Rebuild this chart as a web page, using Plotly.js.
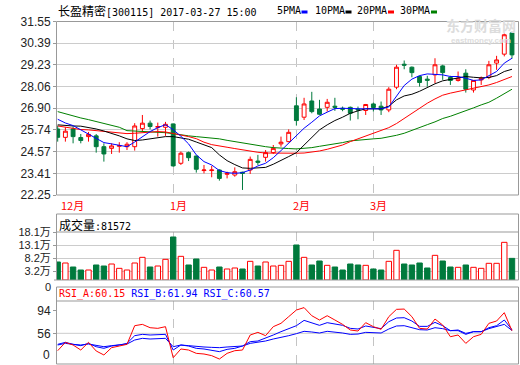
<!DOCTYPE html>
<html>
<head>
<meta charset="utf-8">
<script src="https://cdn.plot.ly/plotly-3.0.1.min.js"></script>
<style>
html,body{margin:0;padding:0;background:#fff;}
#chart{width:520px;height:365px;}
</style>
</head>
<body>
<div id="chart"></div>
<script>
// ---------------- data ----------------
const monthIdx = [0, 15, 31, 41];
const monthLabels = ['12月', '1月', '2月', '3月'];

const open  = [25.79,25.34,25.79,25.33,25.38,25.42,24.84,24.75,24.86,24.84,
               24.84,25.81,26.10,25.88,25.88,26.06,23.95,24.52,24.34,23.56,
               23.56,23.59,23.36,23.32,23.47,23.59,24.07,24.27,24.52,24.99,
               25.11,27.03,26.42,27.29,26.86,26.95,27.01,26.90,26.95,26.86,
               26.78,27.13,27.01,26.81,28.03,29.26,29.10,28.60,28.46,28.69,
               29.17,28.55,28.39,28.78,27.88,28.42,28.56,29.32,29.80,30.94];
const high  = [25.97,25.88,25.92,25.52,25.63,25.52,25.02,25.02,25.08,25.08,
               26.10,26.54,26.24,26.13,26.17,26.08,24.58,24.58,24.36,23.86,
               23.81,23.63,23.50,23.73,23.50,24.31,24.40,24.66,24.93,25.38,
               25.77,27.49,27.46,27.78,27.35,27.40,27.46,26.99,26.99,26.99,
               27.13,27.20,27.26,28.03,29.23,29.46,29.14,28.65,28.64,29.58,
               29.23,28.64,28.87,28.99,28.39,28.60,29.44,29.71,30.90,30.98];
const low   = [25.11,25.11,25.02,25.02,25.11,24.52,24.04,24.45,24.52,24.66,
               24.63,25.65,25.77,25.38,25.42,23.77,23.86,24.07,23.45,23.41,
               23.20,23.02,23.14,23.23,22.52,23.38,23.86,24.04,24.45,24.84,
               25.08,25.97,26.27,26.63,26.54,26.72,26.76,26.74,26.24,26.31,
               26.54,26.72,26.54,26.69,27.92,28.99,28.56,28.06,28.06,28.24,
               28.42,28.15,28.33,27.74,27.74,28.15,28.46,28.96,29.68,29.56];
const close = [25.34,25.67,25.38,25.17,25.50,24.84,24.45,24.88,24.90,24.97,
               25.95,26.10,25.92,25.92,26.04,23.81,24.49,24.25,23.63,23.59,
               23.59,23.14,23.41,23.50,23.41,24.16,24.00,24.52,24.75,25.08,
               25.61,26.24,27.13,26.72,26.58,27.22,26.95,26.85,26.63,26.81,
               27.10,26.94,26.81,27.92,29.10,29.21,28.81,28.28,28.40,29.23,
               28.81,28.39,28.51,27.92,28.39,28.51,29.23,29.49,30.84,29.76];

const ma5  = [26.31,26.11,25.97,25.74,25.52,25.29,25.06,24.99,24.93,24.84,
              25.09,25.38,25.65,25.86,26.02,25.75,25.40,24.99,24.40,24.04,
              23.86,23.56,23.45,23.41,23.45,23.59,23.81,23.95,24.25,24.63,
              25.02,25.42,25.83,26.15,26.49,26.69,26.88,26.90,26.87,26.87,
              26.87,26.87,26.87,26.97,27.53,28.12,28.46,28.65,28.74,28.73,
              28.69,28.60,28.60,28.51,28.39,28.42,28.64,28.87,29.32,29.58];
const ma10 = [26.01,25.97,25.95,25.94,25.88,25.79,25.68,25.56,25.42,25.26,
              25.17,25.20,25.27,25.33,25.38,25.38,25.33,25.24,25.09,24.95,
              24.79,24.40,24.09,23.88,23.70,23.68,23.70,23.73,23.90,24.09,
              24.31,24.52,24.93,25.34,25.74,26.01,26.24,26.42,26.63,26.76,
              26.87,26.87,26.87,27.01,27.35,27.56,27.65,27.81,28.03,28.21,
              28.37,28.46,28.53,28.60,28.56,28.53,28.55,28.65,28.87,28.99];
const ma20 = [25.95,25.88,25.79,25.76,25.74,25.70,25.65,25.59,25.56,25.54,
              25.56,25.59,25.65,25.65,25.63,25.56,25.47,25.38,25.27,25.08,
              24.95,24.86,24.81,24.74,24.66,24.59,24.54,24.50,24.49,24.49,
              24.49,24.49,24.50,24.54,24.61,24.70,24.81,24.93,25.11,25.26,
              25.38,25.52,25.70,25.86,26.08,26.35,26.63,26.92,27.17,27.40,
              27.60,27.71,27.80,27.85,27.96,28.06,28.15,28.28,28.42,28.60];
const ma30 = [26.72,26.60,26.49,26.38,26.29,26.19,26.10,26.01,25.88,25.70,
              25.68,25.68,25.67,25.65,25.59,25.54,25.47,25.42,25.38,25.34,
              25.31,25.26,25.18,25.11,25.04,24.95,24.88,24.84,24.79,24.75,
              24.74,24.72,24.75,24.79,24.86,24.92,24.99,25.06,25.15,25.20,
              25.24,25.26,25.29,25.36,25.45,25.56,25.70,25.86,26.02,26.17,
              26.35,26.47,26.61,26.76,26.92,27.08,27.22,27.44,27.67,27.92];

const volume = [67900,64100,49000,37700,37700,56600,52800,60300,44000,37700,
                64100,85500,49000,52800,77900,162200,89200,56600,79200,47800,
                37700,49000,41500,45300,41500,70400,52800,67900,52800,55300,
                70400,132000,85500,56600,71600,55300,49000,37700,60300,56600,
                55300,41500,37700,70400,111900,60300,56600,64100,45300,93000,
                71600,49000,47800,56600,47800,44000,62900,62900,142000,81572];

const rsiA = [27.3,41.1,36.7,28.4,41.1,26.8,20.2,32.3,35.0,37.8,
              68.6,70.8,65.3,64.2,67.0,15.7,30.1,28.4,22.9,21.8,
              19.1,13.5,22.9,27.3,28.4,53.2,57.6,52.1,67.0,72.5,
              83.5,94.5,98.5,85.1,78.0,85.1,78.0,70.8,61.5,59.8,
              73.6,67.0,62.6,83.5,95.6,96.1,83.5,64.2,63.1,79.6,
              69.7,50.4,53.2,39.4,50.4,54.3,72.5,76.3,90.1,60.15];
const rsiB = [37.8,41.1,37.8,35.6,39.4,33.9,31.2,35.0,36.7,39.4,
              52.1,54.3,53.2,53.2,54.3,28.4,36.7,35.0,31.2,30.1,
              28.4,25.7,29.5,31.2,35.0,42.2,43.3,47.7,53.2,58.7,
              64.2,68.6,77.4,73.6,69.2,73.6,71.4,69.2,64.2,63.1,
              68.1,65.3,63.7,75.2,81.3,81.8,76.3,67.5,67.5,74.1,
              68.6,60.4,60.4,54.3,58.7,58.7,65.3,68.6,78.0,61.94];
const rsiC = [36.7,39.4,37.8,36.7,38.3,35.6,33.9,35.6,36.7,38.3,
              44.9,47.7,46.6,46.6,47.7,33.9,36.7,35.6,33.9,33.4,
              32.8,32.3,33.4,33.9,35.0,39.4,41.1,43.3,46.6,48.8,
              52.1,55.4,59.3,58.2,56.5,59.3,58.2,56.5,54.3,54.8,
              57.6,57.6,56.5,63.1,68.1,68.6,65.9,62.0,61.5,65.3,
              63.7,60.4,61.5,55.9,58.7,58.7,63.7,67.0,70.8,60.57];

const priceTicks = [22.25,23.41,24.57,25.74,26.90,28.06,29.23,30.39,31.55];
const priceTickText = ['22.25','23.41','24.57','25.74','26.90','28.06','29.23','30.39','31.55'];
const volTicks = [32000,82000,131000,181000];
const volTickText = ['3.2万','8.2万','13.1万','18.1万'];
const volZeroText = '0';
const rsiTicks = [56,94];
const rsiTickText = ['56','94'];
const rsiZeroText = '0';

// ---------------- styling ----------------
const RED = '#ff0000', GREEN = '#007a3d', BLUE = '#0000ff';
const idx = close.map((_, i) => i);
const H = 365, L = 57, R = 519;
const px = p => (p - L) / (R - L);
const py = p => 1 - p / H;

const upColor = close.map((c, i) => c >= open[i]);
const volFill = upColor.map(u => u ? '#ffffff' : GREEN);
const volLine = upColor.map(u => u ? RED : GREEN);

const traces = [
  {type:'candlestick', x:idx, open:open, high:high, low:low, close:close,
   xaxis:'x', yaxis:'y', whiskerwidth:0,
   increasing:{line:{color:RED, width:1}, fillcolor:'#ffffff'},
   decreasing:{line:{color:GREEN, width:1}, fillcolor:GREEN},
   hoverinfo:'skip'},
  {type:'scatter', mode:'lines', x:idx, y:ma30, line:{color:'#008000', width:1}, xaxis:'x', yaxis:'y'},
  {type:'scatter', mode:'lines', x:idx, y:ma20, line:{color:RED, width:1}, xaxis:'x', yaxis:'y'},
  {type:'scatter', mode:'lines', x:idx, y:ma10, line:{color:'#000000', width:1}, xaxis:'x', yaxis:'y'},
  {type:'scatter', mode:'lines', x:idx, y:ma5, line:{color:BLUE, width:1}, xaxis:'x', yaxis:'y'},
  {type:'bar', x:idx, y:volume, xaxis:'x2', yaxis:'y2',
   marker:{color:volFill, line:{color:volLine, width:1}}},
  {type:'scatter', mode:'lines', x:idx, y:rsiC, line:{color:BLUE, width:1}, xaxis:'x3', yaxis:'y3'},
  {type:'scatter', mode:'lines', x:idx, y:rsiB, line:{color:BLUE, width:1}, xaxis:'x3', yaxis:'y3'},
  {type:'scatter', mode:'lines', x:idx, y:rsiA, line:{color:RED, width:1}, xaxis:'x3', yaxis:'y3'}
];

const xRange = [-0.09, 59.91];
const xCommon = {range:xRange, tickvals:monthIdx, showticklabels:false, ticks:'',
  showgrid:true, gridcolor:'#c4c4c4', griddash:'dash', gridwidth:1,
  zeroline:false, showline:false, fixedrange:true};
const tickFont = {family:'Liberation Sans, Noto Sans CJK SC', size:12, color:'#222'};
const volTickFont = {family:'Liberation Sans, Noto Sans CJK SC', size:11, color:'#222'};
const yCommon = {zeroline:false, showline:false, ticks:'outside', ticklen:3,
  tickcolor:'#999', tickfont:tickFont, fixedrange:true};

const mono = 'DejaVu Sans Mono';
const cjk = 'Noto Sans CJK SC';

const annotations = [
  {xref:'paper', yref:'paper', x:0, y:py(10.5), xanchor:'left', yanchor:'middle', showarrow:false,
   xshift:-1,
   font:{family:mono, size:10, color:'#000'},
   text:'<span style="font-family:' + cjk + ';font-size:12px">长盈精密</span>[300115] 2017-03-27 15:00'},
  {xref:'paper', yref:'paper', x:px(276), y:py(10.5), xanchor:'left', yanchor:'middle', showarrow:false, xshift:-1,
   font:{family:mono, size:10, color:'#000'}, text:'5PMA'},
  {xref:'paper', yref:'paper', x:px(314), y:py(10.5), xanchor:'left', yanchor:'middle', showarrow:false, xshift:-1,
   font:{family:mono, size:10, color:'#000'}, text:'10PMA'},
  {xref:'paper', yref:'paper', x:px(356), y:py(10.5), xanchor:'left', yanchor:'middle', showarrow:false, xshift:-1,
   font:{family:mono, size:10, color:'#000'}, text:'20PMA'},
  {xref:'paper', yref:'paper', x:px(399), y:py(10.5), xanchor:'left', yanchor:'middle', showarrow:false, xshift:-1,
   font:{family:mono, size:10, color:'#000'}, text:'30PMA'},
  // watermark
  {xref:'paper', yref:'paper', x:px(481), y:py(24.5), xanchor:'center', yanchor:'middle', showarrow:false,
   borderpad:0,
   font:{family:cjk, size:14, color:'#dcdcdc'}, text:'<b>东方财富网</b>'},
  {xref:'paper', yref:'paper', x:px(481), y:py(40), xanchor:'center', yanchor:'middle', showarrow:false,
   borderpad:0,
   font:{family:'Liberation Sans', size:8, color:'#dcdcdc'}, text:'<b>eastmoney.com</b>'},
  // volume header
  {xref:'paper', yref:'paper', x:px(58), y:py(224), xanchor:'left', yanchor:'middle', showarrow:false, xshift:-1,
   font:{family:mono, size:10, color:'#000'},
   text:'<span style="font-family:' + cjk + ';font-size:12px">成交量</span>:' + volume[volume.length-1]},
  // volume zero label
  {xref:'paper', yref:'paper', x:0, y:py(279.5), xanchor:'right', yanchor:'top', showarrow:false, xshift:-5,
   borderpad:0, font:volTickFont, text:volZeroText},
  // RSI header
  {xref:'paper', yref:'paper', x:px(57.5), y:py(294), xanchor:'left', yanchor:'middle', showarrow:false, xshift:-1,
   font:{family:mono, size:10, color:BLUE},
   text:'<span style="color:' + RED + '">RSI_A:' + rsiA[rsiA.length-1].toFixed(2) + '</span> RSI_B:' +
        rsiB[rsiB.length-1].toFixed(2) + ' RSI_C:' + rsiC[rsiC.length-1].toFixed(2)},
  // RSI bottom label
  {xref:'paper', yref:'paper', x:0, y:py(355), xanchor:'right', yanchor:'middle', showarrow:false, xshift:-5,
   font:tickFont, text:rsiZeroText}
];
monthIdx.forEach((m, k) => {
  annotations.push({xref:'x', yref:'paper', x:m, y:py(205), xanchor:'left', yanchor:'middle',
    showarrow:false, xshift:(k === 0 ? 1 : -5),
    font:{family:cjk, size:11, color:RED}, text:monthLabels[k]});
});

const frame = '#999999';
const shapes = [
  {type:'rect', xref:'paper', yref:'paper', x0:px(56.5), x1:px(518.5), y0:py(195), y1:py(21.5),
   line:{color:frame, width:1}},
  {type:'rect', xref:'paper', yref:'paper', x0:px(56.5), x1:px(518.5), y0:py(280), y1:py(214),
   line:{color:frame, width:1}},
  {type:'line', xref:'paper', yref:'paper', x0:px(56.5), x1:px(518.5), y0:py(232), y1:py(232),
   line:{color:frame, width:1}},
  {type:'rect', xref:'paper', yref:'paper', x0:px(56.5), x1:px(518.5), y0:py(364), y1:py(287),
   line:{color:frame, width:1}},
  {type:'line', xref:'paper', yref:'paper', x0:px(56.5), x1:px(518.5), y0:py(301), y1:py(301),
   line:{color:frame, width:1}},
  {type:'line', xref:'paper', yref:'y3', x0:0, x1:1, y0:56, y1:56, layer:'below',
   line:{color:'#cccccc', width:1}},
  // small tick for the volume zero label
  {type:'line', xref:'paper', yref:'paper', x0:px(54), x1:px(56.5), y0:py(280), y1:py(280),
   line:{color:'#999', width:1}},
  // legend swatches
  {type:'rect', xref:'paper', yref:'paper', x0:px(301.5), x1:px(307.5), y0:py(13.5), y1:py(10.5),
   fillcolor:BLUE, line:{width:0}},
  {type:'rect', xref:'paper', yref:'paper', x0:px(345.5), x1:px(351.5), y0:py(13.5), y1:py(10.5),
   fillcolor:'#000000', line:{width:0}},
  {type:'rect', xref:'paper', yref:'paper', x0:px(388), x1:px(394), y0:py(13.5), y1:py(10.5),
   fillcolor:RED, line:{width:0}},
  {type:'rect', xref:'paper', yref:'paper', x0:px(431), x1:px(437), y0:py(13.5), y1:py(10.5),
   fillcolor:'#008000', line:{width:0}}
];

const layout = {
  width:520, height:365,
  margin:{l:57, r:1, t:0, b:0, pad:0},
  paper_bgcolor:'#ffffff', plot_bgcolor:'#ffffff',
  showlegend:false,
  font:{family:'Liberation Sans, Noto Sans CJK SC', size:12, color:'#222'},
  boxgap:0.28,
  bargap:0.3,
  xaxis:Object.assign({}, xCommon, {anchor:'y', rangeslider:{visible:false}}),
  yaxis:Object.assign({}, yCommon, {domain:[py(195), py(21.5)], range:[22.25, 31.55],
    tickvals:priceTicks, ticktext:priceTickText, showgrid:true, gridcolor:'#cccccc', gridwidth:1}),
  xaxis2:Object.assign({}, xCommon, {anchor:'y2'}),
  yaxis2:Object.assign({}, yCommon, {domain:[py(280), py(232)], range:[0, 181000],
    tickvals:volTicks, ticktext:volTickText, tickfont:volTickFont,
    showgrid:true, gridcolor:'#cccccc', gridwidth:1}),
  xaxis3:Object.assign({}, xCommon, {anchor:'y3'}),
  yaxis3:Object.assign({}, yCommon, {domain:[py(364), py(301)], range:[5.3, 109.4],
    tickvals:rsiTicks, ticktext:rsiTickText, showgrid:false}),
  annotations:annotations,
  shapes:shapes
};

Plotly.newPlot('chart', traces, layout, {staticPlot:true, displayModeBar:false});
</script>
</body>
</html>
